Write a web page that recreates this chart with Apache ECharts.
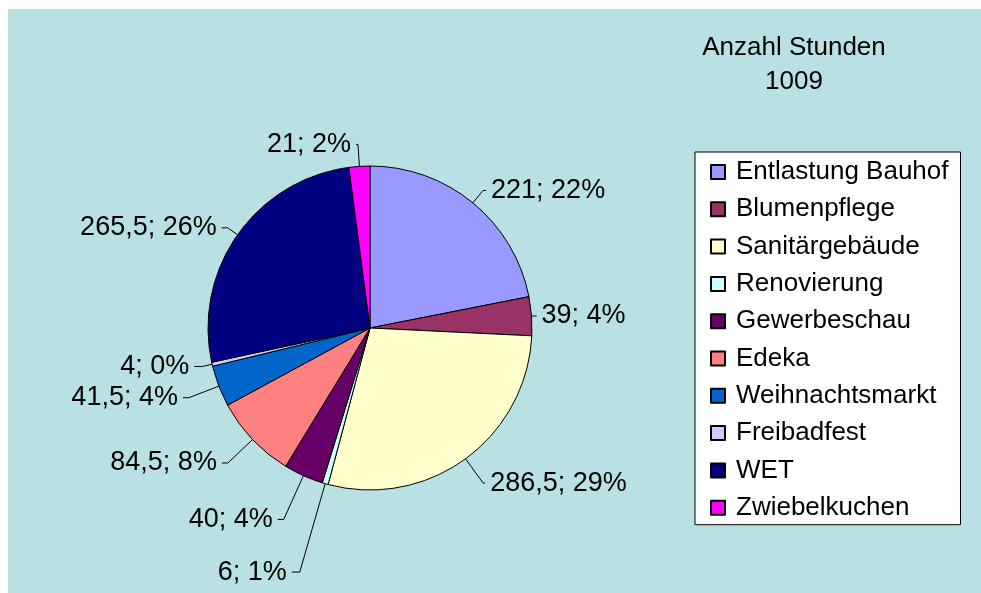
<!DOCTYPE html>
<html>
<head>
<meta charset="utf-8">
<script src="https://cdn.jsdelivr.net/npm/echarts@6/dist/echarts.min.js"></script>
<style>
html,body{margin:0;padding:0;background:#fff;}
#chart{width:981px;height:593px;}
</style>
</head>
<body>
<div id="chart"></div>
<script>
var categories = ['Entlastung Bauhof','Blumenpflege','Sanitärgebäude','Renovierung','Gewerbeschau','Edeka','Weihnachtsmarkt','Freibadfest','WET','Zwiebelkuchen'];
var hours = [221, 39, 286.5, 6, 40, 84.5, 41.5, 4, 265.5, 21];
var percentLabels = [22, 4, 29, 1, 4, 8, 4, 0, 26, 2];
var colors = ['#9999FF','#993366','#FFFFCC','#CCFFFF','#660066','#FF8080','#0066CC','#CCCCFF','#000080','#FF00FF'];
var titleText = 'Anzahl Stunden\n1009';
// leader line styling per slice (length of radial leg, length of horizontal leg)
var lineLen1 = [16, 3, 30, 92, 48, 34, 32, 10, 12, 22];
var lineLen2 = [3, 2, 2, 8, 6, 6, 6, 8, 6, 2];

var FONT = 'Arial, "Liberation Sans", sans-serif';
var chart = echarts.init(document.getElementById('chart'));
var data = categories.map(function(c, i){
  return {
    name: c, value: hours[i], pct: percentLabels[i],
    itemStyle: {color: colors[i]},
    labelLine: {length: lineLen1[i], length2: lineLen2[i]}
  };
});
function fmtNum(v){ return String(v).replace('.', ','); }

chart.setOption({
  backgroundColor: 'transparent',
  animation: false,
  graphic: [{type:'rect', left:8, top:9, shape:{width:973, height:584}, style:{fill:'#B9E0E3'}, silent:true, z:-10}],
  title: {
    text: titleText,
    left: 789, top: 26, textAlign: 'center',
    textStyle: {fontFamily: FONT, fontSize: 26, fontWeight: 'normal', color: '#000', lineHeight: 34}
  },
  legend: {
    orient: 'vertical',
    left: 695, top: 152,
    backgroundColor: '#fff', borderColor: '#000', borderWidth: 1,
    padding: [7, 12, 4, 15],
    itemWidth: 14, itemHeight: 14, itemGap: 11.3,
    icon: 'rect',
    data: categories,
    textStyle: {fontFamily: FONT, fontSize: 26, color: '#000', lineHeight: 26, padding: [0,0,0,6]}
  },
  series: [{
    type: 'pie',
    center: [370, 328],
    radius: 162,
    startAngle: 90,
    clockwise: true,
    avoidLabelOverlap: false,
    itemStyle: {borderColor: '#000', borderWidth: 1},
    label: {
      show: true, position: 'outside',
      fontFamily: FONT, fontSize: 27, color: '#000',
      formatter: function(p){ return fmtNum(p.value) + '; ' + p.data.pct + '%'; }
    },
    labelLine: {show: true, lineStyle: {color: '#000', width: 1}},
    emphasis: {disabled: true},
    data: data
  }]
});
</script>
</body>
</html>
